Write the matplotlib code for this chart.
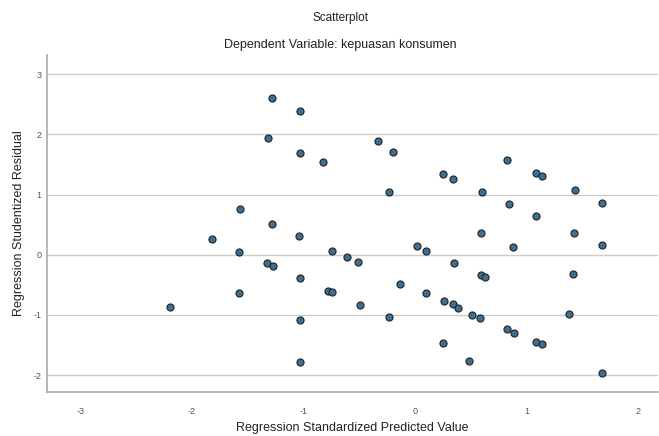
import matplotlib.pyplot as plt
import numpy as np

plt.rcParams['font.family'] = ['Liberation Sans', 'DejaVu Sans']

# standardized predicted value vs studentized residual
pred = [-2.20, -1.82, -1.57, -1.58, -1.58, -1.32, -1.28, -1.28, -1.33, -1.27,
        -1.03, -1.03, -1.04, -1.03, -1.03, -1.03, -0.82, -0.74, -0.78, -0.74,
        -0.61, -0.51, -0.49, -0.33, -0.20, -0.23, -0.23, -0.13, 0.02, 0.10,
        0.10, 0.25, 0.34, 0.35, 0.26, 0.34, 0.39, 0.25, 0.49, 0.51,
        0.58, 0.59, 0.60, 0.59, 0.63, 0.83, 0.84, 0.88, 0.83, 0.89,
        1.09, 1.14, 1.09, 1.09, 1.14, 1.38, 1.43, 1.42, 1.44, 1.68,
        1.68, 1.68]
resid = [-0.86, 0.27, 0.76, 0.05, -0.63, 1.94, 2.61, 0.51, -0.13, -0.18,
         2.39, 1.69, 0.32, -0.38, -1.08, -1.78, 1.54, 0.07, -0.60, -0.61,
         -0.03, -0.12, -0.83, 1.89, 1.71, 1.05, -1.03, -0.48, 0.15, 0.07,
         -0.63, 1.35, 1.26, -0.13, -0.76, -0.81, -0.88, -1.46, -1.76, -1.00,
         -1.05, 0.37, 1.05, -0.33, -0.37, 1.58, 0.85, 0.13, -1.23, -1.30,
         1.36, 1.31, 0.65, -1.45, -1.48, -0.98, 0.37, -0.32, 1.08, 0.86,
         0.17, -1.96]

xticks = [-3, -2, -1, 0, 1, 2]
yticks = [-2, -1, 0, 1, 2, 3]

fig = plt.figure(figsize=(6.59, 4.36), dpi=100)
ax = fig.add_axes([0.0713, 0.1009, 0.927, 0.773])

ax.scatter(pred, resid, s=26, facecolor='#3b6f93', edgecolor='#222222',
           linewidth=0.8, zorder=3)

ax.set_xlim(-3.30, 2.18)
ax.set_ylim(-2.28, 3.32)
ax.set_xticks(xticks)
ax.set_yticks(yticks)
ax.set_xticklabels([str(t) for t in xticks])
ax.set_yticklabels([str(t) for t in yticks])
ax.tick_params(labelsize=6.5, labelcolor='#555555', length=0)
ax.tick_params(axis='x', pad=11)
ax.tick_params(axis='y', pad=4)

ax.yaxis.grid(True, color='#cccccc', linewidth=1.0)
ax.set_axisbelow(True)
for side in ['top', 'right']:
    ax.spines[side].set_visible(False)
for side in ['left', 'bottom']:
    ax.spines[side].set_color('#aaaaaa')
    ax.spines[side].set_linewidth(1.2)

ax.set_xlabel('Regression Standardized Predicted Value', fontsize=9, color='#222222', labelpad=4)
ax.set_ylabel('Regression Studentized Residual', fontsize=9, color='#222222', labelpad=6)

fig.text(0.516, 0.958, 'Scatterplot', ha='center', va='center', fontsize=8.5, color='#222222')
fig.text(0.516, 0.897, 'Dependent Variable: kepuasan konsumen', ha='center', va='center',
         fontsize=9, color='#222222')

fig.savefig('out.png', dpi=100)
